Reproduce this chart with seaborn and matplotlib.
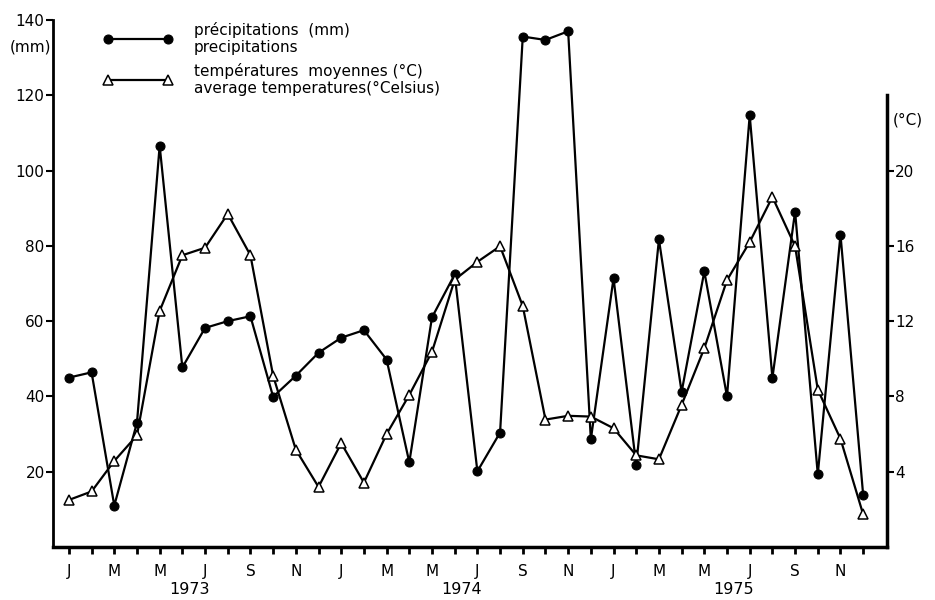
import numpy as np
import pandas as pd
import matplotlib
matplotlib.use("Agg")
import matplotlib.pyplot as plt
import matplotlib.transforms as mtransforms
import seaborn as sns


# monthly values, January 1973 to December 1975
precipitation_mm = [45, 46.4, 11, 33, 106.6, 47.7, 58.2, 60, 61.3, 39.9, 45.5, 51.6,
                    55.6, 57.6, 49.8, 22.5, 61, 72.4, 20.1, 30.4, 135.6, 134.7, 137, 28.6,
                    71.4, 21.7, 81.7, 41.2, 73.2, 40, 114.7, 44.9, 89.1, 19.3, 83, 13.8]
temperature_c = [2.5, 2.95, 4.57, 5.93, 12.54, 15.5, 15.9, 17.7, 15.5, 9.1, 5.17, 3.19,
                 5.52, 3.42, 6.0, 8.08, 10.37, 14.2, 15.15, 15.98, 12.8, 6.77, 6.97, 6.93,
                 6.31, 4.87, 4.66, 7.55, 10.56, 14.18, 16.2, 18.6, 15.98, 8.36, 5.75, 1.73]

month_labels = ["J", "M", "M", "J", "S", "N"]
years = ["1973", "1974", "1975"]
mm_ticks = [20, 40, 60, 80, 100, 120, 140]
c_ticks = [4, 8, 12, 16, 20]

label_precip = "précipitations  (mm)\nprecipitations"
label_temp = "températures  moyennes (°C)\naverage temperatures(°Celsius)"


def build_frame():
    df = pd.DataFrame({
        "month": np.arange(len(precipitation_mm)),
        "precip": precipitation_mm,
        "temp": temperature_c,
    })
    return df


def draw_chart(df):
    sns.set_style("ticks")
    plt.rcParams["font.family"] = ["DejaVu Sans"]
    for key in ["text.color", "xtick.color", "ytick.color", "axes.edgecolor",
                "xtick.labelcolor", "ytick.labelcolor"]:
        plt.rcParams[key] = "black"

    fig = plt.figure(figsize=(9.35, 6), dpi=100)
    ax = fig.add_axes([53 / 935, 53 / 600, 834 / 935, 527 / 600])
    ax2 = ax.twinx()

    sns.lineplot(data=df, x="month", y="precip", ax=ax, color="black",
                 linewidth=1.6, marker="o", markersize=6.5,
                 markerfacecolor="black", markeredgecolor="black")
    sns.lineplot(data=df, x="month", y="temp", ax=ax2, color="black",
                 linewidth=1.6, marker="^", markersize=7.5,
                 markerfacecolor="white", markeredgecolor="black",
                 markeredgewidth=1.1)

    n = len(df)
    ax.set_xlim(-0.7, n + 0.05)
    ax.set_ylim(0, 140)
    ax2.set_ylim(0, 28)

    ax.set_xticks(range(n))
    ax.set_xticklabels([month_labels[(i // 2) % 6] if i % 2 == 0 else "" for i in range(n)])
    ax.set_yticks(mm_ticks)
    ax2.set_yticks(c_ticks)
    ax.set_xlabel("")
    ax.set_ylabel("")
    ax2.set_ylabel("")

    ax.tick_params(axis="x", length=5, width=2, pad=7, labelsize=11)
    ax.tick_params(axis="y", length=5, width=1.5, pad=1, labelsize=11)
    ax2.tick_params(axis="y", length=5, width=1.5, pad=1, labelsize=11)

    for side in ["top", "right"]:
        ax.spines[side].set_visible(False)
    for side in ["top", "left", "bottom"]:
        ax2.spines[side].set_visible(False)
    ax.spines["left"].set_linewidth(2)
    ax.spines["bottom"].set_linewidth(2.5)
    ax.spines["left"].set_bounds(0, 140)
    ax2.spines["right"].set_linewidth(2.5)
    ax2.spines["right"].set_bounds(0, 24)

    # year labels under the month letters
    trans = mtransforms.blended_transform_factory(ax.transData, fig.transFigure)
    for k, year in enumerate(years):
        ax.text(5.3 + 12 * k, 1 - 590 / 600, year, transform=trans,
                ha="center", va="center", fontsize=11.5)

    fig.text(30 / 935, 1 - 47 / 600, "(mm)", ha="center", va="center", fontsize=11)
    fig.text(908 / 935, 1 - 120 / 600, "(°C)", ha="center", va="center", fontsize=11)

    fig.legend([ax.lines[0], ax2.lines[0]], [label_precip, label_temp],
               loc="upper left", bbox_to_anchor=(96 / 935, 1 - 14 / 600),
               frameon=False, numpoints=2, handlelength=4.5, handletextpad=1.4,
               borderpad=0, labelspacing=0.5, fontsize=11)

    fig.savefig("out.png", dpi=100)


if __name__ == "__main__":
    draw_chart(build_frame())
